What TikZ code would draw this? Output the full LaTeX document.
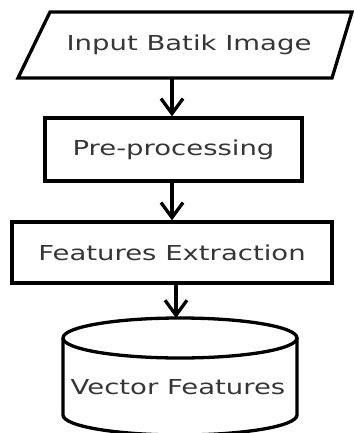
\documentclass[tikz,border=0pt]{standalone}
\usepackage{fontspec}
\setmainfont{DejaVu Sans}
\usetikzlibrary{arrows.meta}
\definecolor{txt}{HTML}{363636}
\newcommand{\lbl}[1]{\scalebox{1.335}[1]{\fontsize{20.6}{24}\selectfont #1}}
\tikzset{
  outline/.style={draw=black, line width=3.3pt, line join=miter},
  boxnode/.style={outline, rectangle, inner sep=0pt, text=txt},
  txtnode/.style={inner sep=0pt, text=txt},
  arr/.style={draw=black, line width=3.3pt, -{Straight Barb[length=15pt,width=22pt,line width=3.3pt]}}
}
\begin{document}
\begin{tikzpicture}[x=1pt,y=1pt]
\useasboundingbox[fill=white] (0,0) rectangle (353,-433);
% input parallelogram
\draw[outline] (50,-12) -- (352,-12) -- (332,-78) -- (18,-78) -- cycle;
\node[txtnode] (input) at (189,-45) {\lbl{Input Batik Image}};
\coordinate (inb) at (172,-78);
% pre-processing
\node[boxnode, minimum width=257pt, minimum height=63pt] (pre) at (173.5,-149.5) {\lbl{Pre-processing}};
% features extraction
\node[boxnode, minimum width=320pt, minimum height=61pt] (fe) at (172,-252.5) {\lbl{Features Extraction}};
% cylinder
\draw[outline] (63,-338) -- (63,-415) arc[start angle=180, end angle=360, x radius=117pt, y radius=20pt] -- (297,-338);
\draw[outline] (180,-338) ellipse[x radius=117pt, y radius=20pt];
\coordinate (cyltop) at (176,-318);
\node[txtnode] (vf) at (178,-387) {\lbl{Vector Features}};
% connectors
\draw[arr] (inb) -- (inb |- pre.north);
\draw[arr] (pre.south -| inb) -- (fe.north -| inb);
\draw[arr] (fe.south -| cyltop) -- (cyltop);
\end{tikzpicture}
\end{document}
